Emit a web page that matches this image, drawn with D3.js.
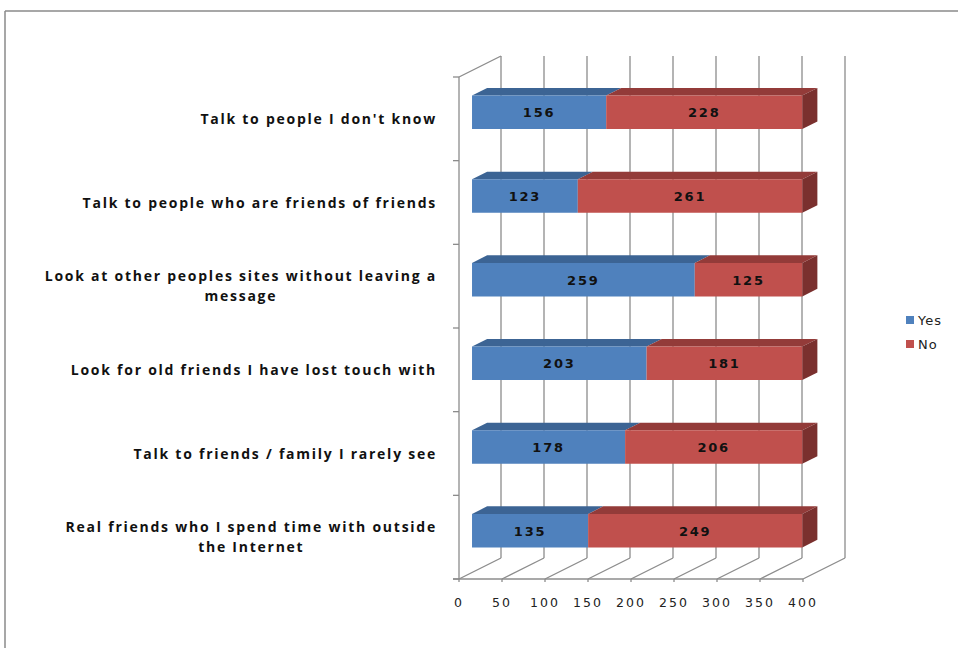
<!DOCTYPE html>
<html><head><meta charset="utf-8">
<script src="https://cdn.jsdelivr.net/npm/d3@7/dist/d3.min.js"></script>
<style>body{margin:0;background:#fff}svg{display:block}</style>
</head><body>
<svg id="c" width="958" height="648"></svg>
<script>
const categories = [
  ["Talk to people I don't know"],
  ["Talk to people who are friends of friends"],
  ["Look at other peoples sites without leaving a", "message"],
  ["Look for old friends I have lost touch with"],
  ["Talk to friends / family I rarely see"],
  ["Real friends who I spend time with outside", "the Internet"]
];
const yesValues = [156, 123, 259, 203, 178, 135];
const noValues  = [228, 261, 125, 181, 206, 249];
const seriesNames = ["Yes", "No"];
const tickValues = [0, 50, 100, 150, 200, 250, 300, 350, 400];

const colors = {
  Yes: {front: "#4F81BD", top: "#3C6494", side: "#2F5079"},
  No:  {front: "#C0504D", top: "#933B39", side: "#7A302E"}
};

const svg = d3.select("#c");
const W = 958, H = 648;

svg.append("line").attr("x1",5).attr("y1",11).attr("x2",W).attr("y2",11).attr("stroke","#8a8a8a").attr("stroke-width",1.5);
svg.append("line").attr("x1",5).attr("y1",11).attr("x2",5).attr("y2",H).attr("stroke","#8a8a8a").attr("stroke-width",1.5);

const X0 = 459, DX = 42, DY = -21;
const x = d3.scaleLinear().domain([0, 400]).range([0, 344]);
const idx = categories.map((d,i)=>i);
const y = d3.scaleBand().domain(idx).range([77, 579]).padding(0);
const P = (v, yy, t) => [X0 + x(v) + DX*t, yy + DY*t];

const grid = svg.append("g").attr("stroke","#8c8c8c").attr("stroke-width",1.3).attr("fill","none");
const yTop = 77, yBot = 579;
tickValues.forEach(v=>{
  const a = P(v, yTop, 1), b = P(v, yBot, 1);
  grid.append("line").attr("x1",a[0]).attr("y1",a[1]).attr("x2",b[0]).attr("y2",b[1]);
  const f = P(v, yBot, 0);
  grid.append("line").attr("x1",f[0]).attr("y1",f[1]).attr("x2",b[0]).attr("y2",b[1]);
  grid.append("line").attr("x1",f[0]).attr("y1",f[1]).attr("x2",f[0]).attr("y2",f[1]+3);
});
{
  const a = P(0, yBot, 0), b = P(400, yBot, 0);
  grid.append("line").attr("x1",a[0]-6).attr("y1",a[1]).attr("x2",b[0]).attr("y2",b[1]);
}
{
  const a = P(0, yTop, 0), b = P(0, yBot, 0), c = P(0, yTop, 1);
  grid.append("line").attr("x1",a[0]).attr("y1",a[1]).attr("x2",b[0]).attr("y2",b[1]);
  grid.append("line").attr("x1",a[0]).attr("y1",a[1]).attr("x2",c[0]).attr("y2",c[1]);
  const bounds = idx.map(i=>y(i)).concat([yBot]);
  bounds.forEach(yy=>{
    grid.append("line").attr("x1",X0-6).attr("y1",yy).attr("x2",X0).attr("y2",yy);
  });
}

const t1 = 0.31, t2 = 0.67;
const bars = svg.append("g");
idx.forEach(i=>{
  const cy = y(i) + y.bandwidth()/2;
  const h = y.bandwidth()*0.4;
  const top = cy - h/2, bot = cy + h/2;
  const segs = [
    {name:"Yes", v0:0, v1:yesValues[i], val:yesValues[i]},
    {name:"No", v0:yesValues[i], v1:yesValues[i]+noValues[i], val:noValues[i]}
  ];
  segs.forEach((s, k)=>{
    const c = colors[s.name];
    const ftl = P(s.v0, top, t1), ftr = P(s.v1, top, t1);
    const fbl = P(s.v0, bot, t1), fbr = P(s.v1, bot, t1);
    const btl = P(s.v0, top, t2), btr = P(s.v1, top, t2), bbr = P(s.v1, bot, t2);
    bars.append("polygon").attr("points",[ftl,ftr,btr,btl].map(p=>p.join(",")).join(" ")).attr("fill",c.top);
    if (k === segs.length-1) {
      bars.append("polygon").attr("points",[ftr,btr,bbr,fbr].map(p=>p.join(",")).join(" ")).attr("fill",c.side);
    }
    bars.append("polygon").attr("points",[ftl,ftr,fbr,fbl].map(p=>p.join(",")).join(" ")).attr("fill",c.front);
    bars.append("text")
      .attr("x",(ftl[0]+ftr[0])/2).attr("y",(ftl[1]+fbl[1])/2 + 5)
      .attr("text-anchor","middle")
      .attr("font-family","'DejaVu Sans', sans-serif").attr("font-weight","bold")
      .attr("font-size",13).attr("letter-spacing","1.8px").attr("fill","#111")
      .text(s.val);
  });
});

const lab = svg.append("g").attr("font-family","'Open Sans', sans-serif").attr("font-weight","bold")
  .attr("font-size",14).attr("fill","#111").attr("letter-spacing","1.75px");
const rightEdge = 437;
idx.forEach(i=>{
  const lines = categories[i];
  const cy = y(i) + y.bandwidth()/2;
  const t = lab.append("text").attr("text-anchor","middle");
  const spans = lines.map((L, j)=>t.append("tspan")
      .attr("y", cy + 5 + (j - (lines.length-1)/2)*19.6).text(L));
  const maxW = d3.max(spans, s=>s.node().getComputedTextLength());
  spans.forEach(s=>s.attr("x", rightEdge - maxW/2));
});

const tl = svg.append("g").attr("font-family","'DejaVu Sans', sans-serif").attr("font-size",12.5)
  .attr("letter-spacing","2px").attr("fill","#222");
tickValues.forEach(v=>{
  tl.append("text").attr("x", P(v,yBot,0)[0]).attr("y",607).attr("text-anchor","middle").text(v);
});

const leg = svg.append("g").attr("font-family","'DejaVu Sans', sans-serif").attr("font-size",13).attr("fill","#222");
seriesNames.forEach((n,k)=>{
  const yy = 316 + k*24;
  leg.append("rect").attr("x",906).attr("y",yy).attr("width",8).attr("height",8).attr("fill",colors[n].front);
  leg.append("text").attr("x",918).attr("y",yy+9).attr("letter-spacing","1px").text(n);
});
</script>
</body></html>
